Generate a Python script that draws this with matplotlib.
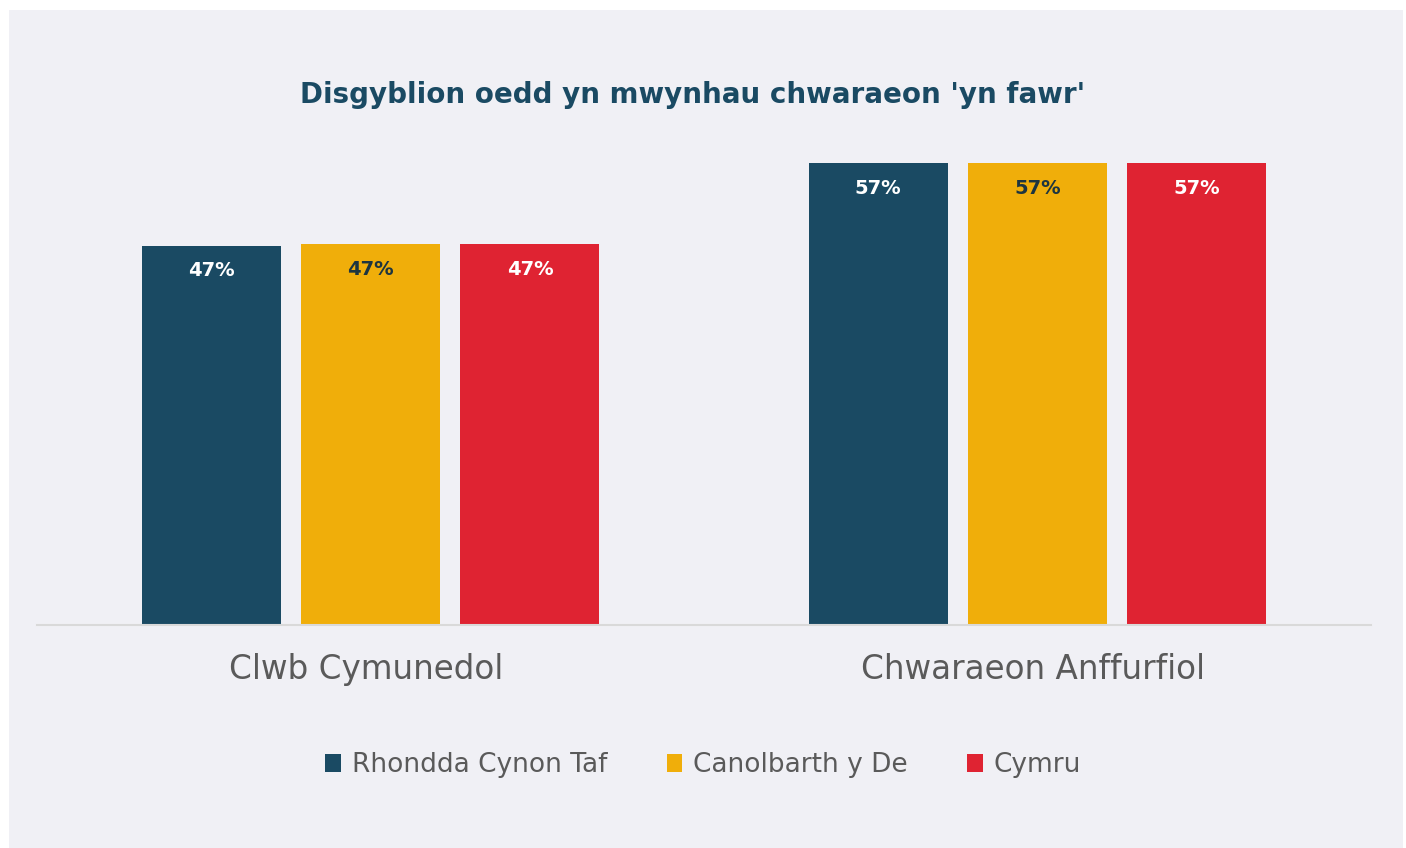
import matplotlib
matplotlib.use("Agg")
import matplotlib.pyplot as plt
from matplotlib.patches import Rectangle
import numpy as np

categories = ["Clwb Cymunedol", "Chwaraeon Anffurfiol"]
series_names = ["Rhondda Cynon Taf", "Canolbarth y De", "Cymru"]
values = {
    "Rhondda Cynon Taf": [46.8, 57.0],
    "Canolbarth y De": [47.0, 57.0],
    "Cymru": [47.0, 57.0],
}
labels = {
    "Rhondda Cynon Taf": ["47%", "57%"],
    "Canolbarth y De": ["47%", "57%"],
    "Cymru": ["47%", "57%"],
}
colors = ["#1a4a63", "#f0ae0a", "#df2332"]
label_colors = ["white", "#1d3540", "white"]

W, H = 1406, 848
fig = plt.figure(figsize=(W / 100, H / 100), dpi=100)
fig.patch.set_facecolor("white")

# grey panel behind the chart
fig.patches.append(Rectangle((9 / W, 0), 1394 / W, 838 / H, transform=fig.transFigure,
                             facecolor="#f0f0f5", edgecolor="none", zorder=-10))

ax = fig.add_axes([37 / W, (H - 625) / H, 1334 / W, (625 - 139) / H])
ax.set_facecolor("none")
ax.set_zorder(1)

x = np.arange(len(categories))
step = 159.5 / 667.5
width = 139 / 667.5
for i, name in enumerate(series_names):
    pos = x + (i - 1) * step
    bars = ax.bar(pos, values[name], width=width, color=colors[i], label=name, zorder=2)
    for rect, txt in zip(bars, labels[name]):
        ax.annotate(txt, (rect.get_x() + rect.get_width() / 2, rect.get_height()),
                    xytext=(0, -25), textcoords="offset pixels", ha="center", va="center",
                    fontsize=14, fontweight="bold", color=label_colors[i])

ax.set_xlim(-0.5, 1.5)
ax.set_ylim(0, 60)
ax.set_yticks([])
ax.set_xticks(x - 0.007)
ax.set_xticklabels(categories, fontsize=23.5, color="#5a5a5a")
ax.tick_params(axis="x", length=0, pad=20)
for s in ["top", "right", "left"]:
    ax.spines[s].set_visible(False)
ax.spines["bottom"].set_color("#d9d9d9")
ax.spines["bottom"].set_linewidth(1.5)

fig.text(693 / W, 1 - 95 / H, "Disgyblion oedd yn mwynhau chwaraeon 'yn fawr'",
         ha="center", va="center", fontsize=20, fontweight="bold", color="#1a4a63")

fig.legend(loc="center", bbox_to_anchor=(703 / W, 1 - 765 / H), ncol=3, frameon=False,
           fontsize=19, labelcolor="#5a5a5a", handlelength=0.6, handleheight=0.65,
           handletextpad=0.4, columnspacing=2.25)

fig.savefig("out.png", dpi=100, facecolor=fig.get_facecolor())
